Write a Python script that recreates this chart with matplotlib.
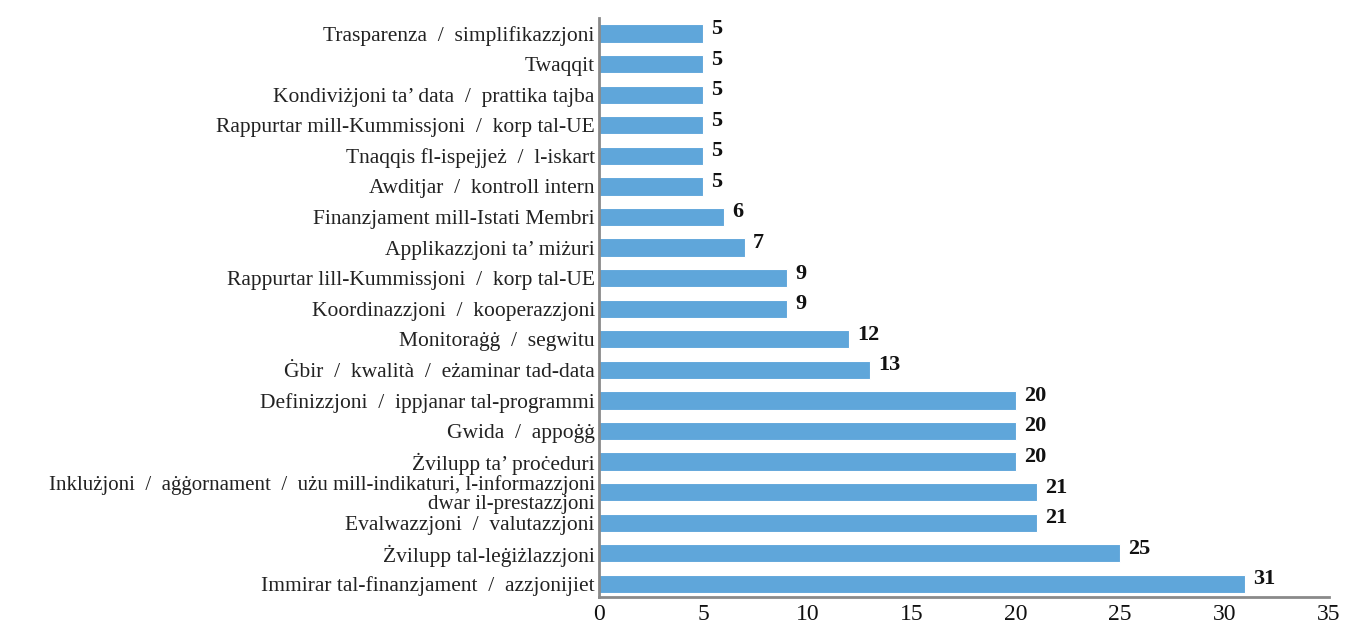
import matplotlib.pyplot as plt

# kategoriji (minn isfel għal fuq) u l-valuri
kategoriji = [
    'Immirar tal-finanzjament  /  azzjonijiet',
    'Żvilupp tal-leġiżlazzjoni',
    'Evalwazzjoni  /  valutazzjoni',
    'Inklużjoni  /  aġġornament  /  użu mill-indikaturi, l-informazzjoni\ndwar il-prestazzjoni',
    'Żvilupp ta’ proċeduri',
    'Gwida  /  appoġġ',
    'Definizzjoni  /  ippjanar tal-programmi',
    'Ġbir  /  kwalità  /  eżaminar tad-data',
    'Monitoraġġ  /  segwitu',
    'Koordinazzjoni  /  kooperazzjoni',
    'Rappurtar lill-Kummissjoni  /  korp tal-UE',
    'Applikazzjoni ta’ miżuri',
    'Finanzjament mill-Istati Membri',
    'Awditjar  /  kontroll intern',
    'Tnaqqis fl-ispejjeż  /  l-iskart',
    'Rappurtar mill-Kummissjoni  /  korp tal-UE',
    'Kondiviżjoni ta’ data  /  prattika tajba',
    'Twaqqit',
    'Trasparenza  /  simplifikazzjoni',
]
valuri = [31, 25, 21, 21, 20, 20, 20, 13, 12, 9, 9, 7, 6, 5, 5, 5, 5, 5, 5]
xticks = [0, 5, 10, 15, 20, 25, 30, 35]

plt.rcParams['font.family'] = ['Liberation Serif', 'DejaVu Serif']

fig = plt.figure(figsize=(13.46, 6.23), dpi=100)
ax = fig.add_axes([0.445, 0.0417, 0.542, 0.929])

pos = list(range(len(kategoriji)))
ax.barh(pos, valuri, height=0.6, color='#5fa6da', edgecolor='white', linewidth=0.8)

for p, v in zip(pos, valuri):
    ax.text(v + 0.4, p + 0.15, str(v), va='center', ha='left',
            fontsize=16, fontweight='bold', color='#111111')

ax.set_yticks(pos)
ax.set_yticklabels(kategoriji, fontsize=15.5, color='#222222', linespacing=1.0)
for lbl in ax.get_yticklabels():
    if '\n' in lbl.get_text():
        lbl.set_fontsize(15)
ax.set_xticks(xticks)
ax.set_xticklabels([str(t) for t in xticks], fontsize=17, color='#111111')
ax.tick_params(axis='x', length=0, pad=5)
ax.tick_params(axis='y', length=0, pad=3)

ax.set_xlim(0, 35)
ax.set_ylim(-0.43, 18.5)

for s in ['top', 'right']:
    ax.spines[s].set_visible(False)
for s in ['left', 'bottom']:
    ax.spines[s].set_color('#8a8a8a')
    ax.spines[s].set_linewidth(2)

fig.savefig('out.png', dpi=100)
